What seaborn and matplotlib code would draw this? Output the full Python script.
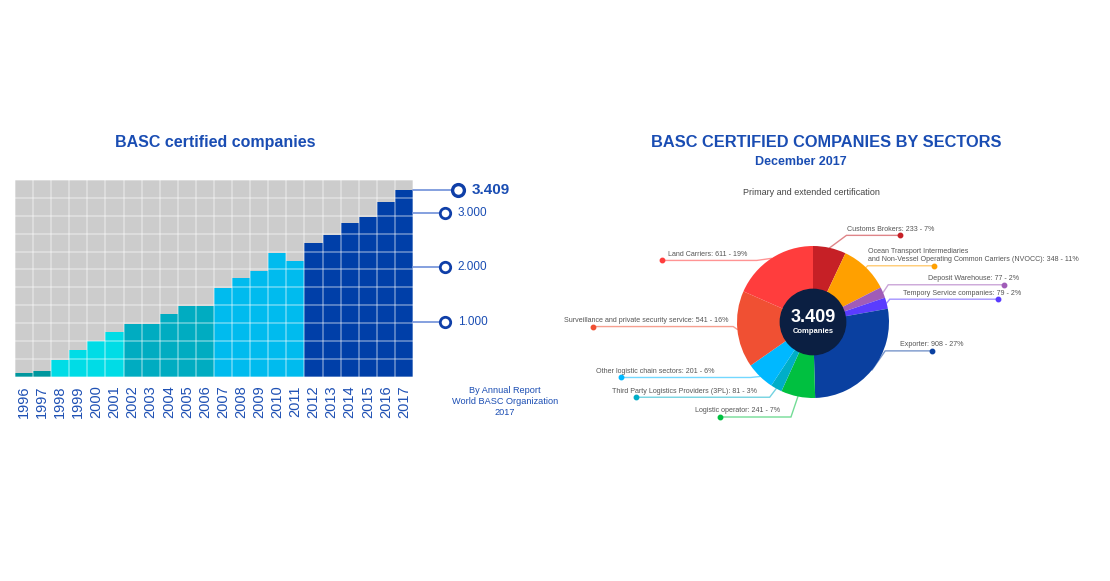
import numpy as np
import matplotlib
matplotlib.use("Agg")
import matplotlib.pyplot as plt
import seaborn as sns
import pandas as pd
from matplotlib.patches import Circle

# ---------------- data ----------------
years = [str(y) for y in range(1996, 2018)]
companies = [60, 100, 310, 490, 650, 820, 960, 960, 1150, 1290, 1290,
             1630, 1800, 1940, 2260, 2120, 2450, 2590, 2820, 2920, 3200, 3409]
bar_colors = (["#00979e"] * 2 + ["#00dce6"] * 4 + ["#00acc1"] * 5 +
              ["#00bbee"] * 5 + ["#003fa8"] * 6)
reference_marks = [1000, 2000, 3000]
reference_labels = ["1.000", "2.000", "3.000"]
total_label = "3.409"

sectors = ["Customs Brokers",
           "Ocean Transport Intermediaries\nand Non-Vessel Operating Common Carriers (NVOCC)",
           "Deposit Warehouse", "Tempory Service companies", "Exporter",
           "Logistic operator", "Third Party Logistics Providers (3PL)",
           "Other logistic chain sectors",
           "Surveillance and private security service", "Land Carriers"]
sector_counts = [233, 348, 77, 79, 908, 241, 81, 201, 541, 611]
sector_pcts = [7, 11, 2, 2, 27, 7, 3, 6, 16, 19]
sector_colors = ["#c62026", "#ffa000", "#a05cb8", "#5a3cff", "#0a40a0",
                 "#00c040", "#00aec8", "#00b8ff", "#f05033", "#ff3d3d"]

# ---------------- layout (label placement, pie units) ----------------
elbows = [(0.44, 1.14), (0.72, 0.74), (0.99, 0.49), (1.01, 0.30), (0.95, -0.38),
          (-0.29, -1.25), (-0.57, -0.99), (-0.82, -0.73), (-1.05, -0.06), (-0.74, 0.81)]
dot_x = [1.15, 1.59, 2.51, 2.43, 1.56, -1.22, -2.33, -2.53, -2.90, -1.99]
text_x = [0.45, 0.72, 1.51, 1.18, 1.15, -0.43, -0.74, -1.30, -1.11, -0.86]

sns.set_theme(style="white")
plt.rcParams["font.family"] = ["Liberation Sans", "DejaVu Sans"]

BLUE = "#1a4db3"
W, H = 1110, 581
fig = plt.figure(figsize=(W / 100, H / 100), dpi=100)
fig.patch.set_facecolor("white")

# ---------------- bar chart ----------------
ax = fig.add_axes([15 / W, 1 - 376.7 / H, (413 - 15) / W, (376.7 - 180) / H])
df = pd.DataFrame({"year": years, "companies": companies})
sns.barplot(data=df, x="year", y="companies", hue="year", palette=bar_colors,
            legend=False, width=1.0, saturation=1, edgecolor="none", ax=ax, zorder=2)
ymax = 3600
ax.set_ylim(0, ymax)
ax.set_xlim(-0.5, len(years) - 0.5)
ax.set_facecolor("#cccccc")
for gx in np.arange(-0.5, len(years), 1.0):
    ax.axvline(gx, color="white", alpha=0.4, lw=1.2, zorder=3)
for gy in np.linspace(0, ymax, 12):
    ax.axhline(gy, color="white", alpha=0.4, lw=1.2, zorder=3)
for s in ax.spines.values():
    s.set_visible(False)
ax.set_xlabel("")
ax.set_ylabel("")
ax.set_yticks([])
ax.tick_params(axis="x", length=0, pad=6, labelsize=10.5, labelcolor="#1e50b4")
plt.setp(ax.get_xticklabels(), rotation=90)

xr = len(years) - 0.5
x_circ = xr + (445 - 413) / 18.09
x_circ_top = xr + (457.7 - 413) / 18.09
line_col = "#7b98dc"
for val, lab in zip(reference_marks, reference_labels):
    ax.plot([xr, x_circ], [val, val], color=line_col, lw=1.3, clip_on=False, zorder=4)
    ax.plot([x_circ], [val], "o", ms=7.5, mfc="white", mec="#0f3fa8", mew=2.0,
            clip_on=False, zorder=5)
    ax.text(x_circ + 0.7, val, lab, va="center", ha="left", fontsize=8.5, color=BLUE)
ax.plot([xr, x_circ_top], [companies[-1]] * 2, color=line_col, lw=1.3, clip_on=False, zorder=4)
ax.plot([x_circ_top], [companies[-1]], "o", ms=8.5, mfc="white", mec="#0f3fa8", mew=2.4,
        clip_on=False, zorder=5)
ax.text(x_circ_top + 0.75, companies[-1], total_label, va="center", ha="left",
        fontsize=11, fontweight="bold", color=BLUE)

fig.text(215 / W, 1 - 143 / H, "BASC certified companies", ha="center", va="center",
         fontsize=11.5, fontweight="bold", color=BLUE)
fig.text(505 / W, 1 - 401.7 / H, "By Annual Report\nWorld BASC Organization\n2017",
         ha="center", va="center", fontsize=6.6, color=BLUE, linespacing=1.25)

# ---------------- pie chart ----------------
R = 76.0
cx, cy = 813, 322
pw, ph = 550, 240
pax = fig.add_axes([(cx - pw / 2) / W, 1 - (cy + ph / 2) / H, pw / W, ph / H])
wedges, _ = pax.pie(sector_counts, colors=sector_colors, startangle=90,
                    counterclock=False, radius=1.0, wedgeprops=dict(linewidth=0))
pax.set_aspect("auto")
pax.set_xlim(-pw / 2 / R, pw / 2 / R)
pax.set_ylim(-ph / 2 / R, ph / 2 / R)
pax.axis("off")
pax.add_patch(Circle((0, 0), 0.43, color="#0b1f42", zorder=5))
pax.text(0, 0.06, total_label, color="white", ha="center", va="center",
         fontsize=13, fontweight="bold", zorder=6)
pax.text(0, -0.13, "Companies", color="white", ha="center", va="center",
         fontsize=5.5, fontweight="bold", zorder=6)

for w, name, cnt, pct, col, (ex, ey), dx, tx in zip(
        wedges, sectors, sector_counts, sector_pcts, sector_colors, elbows, dot_x, text_x):
    ang = np.deg2rad((w.theta1 + w.theta2) / 2)
    sx, sy = np.cos(ang), np.sin(ang)
    pax.plot([sx, ex, dx], [sy, ey, ey], color=col, alpha=0.55, lw=1.0,
             solid_joinstyle="miter", clip_on=False)
    pax.plot([dx], [ey], "o", ms=3.2, color=col, clip_on=False)
    ha = "left" if dx > 0 else "right"
    pax.text(tx, ey + 0.035, f"{name}: {cnt} - {pct}%", ha=ha, va="bottom",
             fontsize=5.1, color="#555555", linespacing=1.2)

fig.text(826.7 / W, 1 - 142.7 / H, "BASC CERTIFIED COMPANIES BY SECTORS", ha="center",
         va="center", fontsize=11.8, fontweight="bold", color=BLUE)
fig.text(801 / W, 1 - 161.7 / H, "December 2017", ha="center", va="center",
         fontsize=9, fontweight="bold", color=BLUE)
fig.text(811.7 / W, 1 - 192.7 / H, "Primary and extended certification", ha="center",
         va="center", fontsize=6.5, color="#444444")

fig.savefig("out.png", dpi=100, facecolor="white")
